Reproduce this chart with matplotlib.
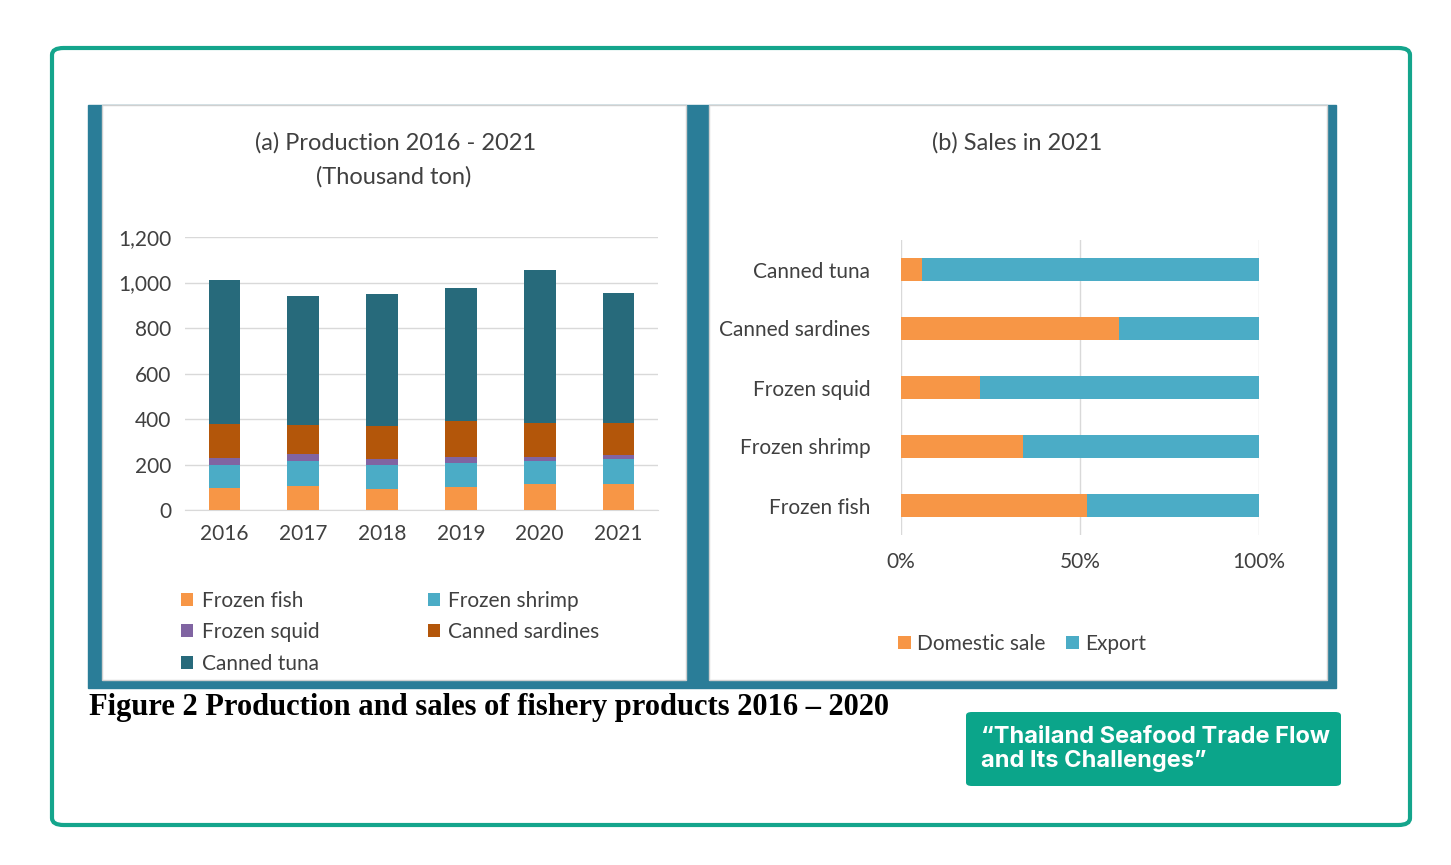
import numpy as np
import matplotlib.pyplot as plt
from matplotlib.patches import Rectangle, FancyBboxPatch

plt.rcParams["font.family"] = ["Lato", "DejaVu Sans"]

years = ["2016", "2017", "2018", "2019", "2020", "2021"]
frozen_fish = [97, 105, 92, 101, 114, 114]
frozen_shrimp = [101, 110, 106, 106, 101, 110]
frozen_squid = [31, 31, 26, 26, 18, 18]
canned_sardines = [149, 128, 145, 158, 149, 140]
canned_tuna = [633, 567, 581, 585, 673, 572]

products = ["Canned tuna", "Canned sardines", "Frozen squid", "Frozen shrimp", "Frozen fish"]
domestic = [6, 61, 22, 34, 52]
export = [94, 39, 78, 66, 48]

C_FISH, C_SHRIMP, C_SQUID, C_SARD, C_TUNA = "#F79646", "#4BACC6", "#8064A2", "#B3560A", "#276A7B"
TEAL = "#2A7D98"

fig = plt.figure(figsize=(14.51, 8.65), dpi=100)
W, H = 1451, 865
def fx(x): return x / W
def fy(y): return 1 - y / H

# outer green rounded border
fig.patches.append(FancyBboxPatch((fx(52), fy(825)), fx(1410 - 52), (825 - 48) / H,
                                  boxstyle="round,pad=0,rounding_size=0.008", transform=fig.transFigure,
                                  fill=False, edgecolor="#14A58C", lw=3, zorder=0))
# teal frame + white panels
fig.patches.append(Rectangle((fx(88), fy(688)), fx(1336 - 88), (688 - 105) / H,
                             transform=fig.transFigure, color=TEAL, zorder=0))
for x0, x1 in [(102, 686), (709, 1327)]:
    fig.patches.append(Rectangle((fx(x0), fy(680)), fx(x1 - x0), (680 - 105) / H,
                                 transform=fig.transFigure, facecolor="white",
                                 edgecolor="#D0D0D0", lw=1, zorder=0))

# (a) stacked columns
ax = fig.add_axes([fx(185), fy(510), fx(473), 273 / H], zorder=2)
ax.patch.set_visible(False)
x = np.arange(len(years))
bottom = np.zeros(len(years))
series = [("Frozen fish", frozen_fish, C_FISH), ("Frozen shrimp", frozen_shrimp, C_SHRIMP),
          ("Frozen squid", frozen_squid, C_SQUID), ("Canned sardines", canned_sardines, C_SARD),
          ("Canned tuna", canned_tuna, C_TUNA)]
handles = {}
for name, vals, col in series:
    handles[name] = ax.bar(x, vals, 0.4, bottom=bottom, color=col, zorder=3)
    bottom += np.array(vals)
ax.set_ylim(0, 1200)
ax.set_xlim(-0.5, 5.5)
ax.set_yticks(range(0, 1201, 200))
ax.set_yticklabels([f"{v:,}" for v in range(0, 1201, 200)])
ax.set_xticks(x)
ax.set_xticklabels(years)
ax.grid(axis="y", color="#D9D9D9", lw=1, zorder=0)
for s in ax.spines.values():
    s.set_visible(False)
ax.spines["bottom"].set_visible(True)
ax.spines["bottom"].set_color("#D9D9D9")
ax.tick_params(length=0, labelsize=15, colors="#404040", pad=10)
fig.text(fx(396), fy(143), "(a) Production 2016 - 2021", ha="center", va="center", fontsize=17, color="#404040")
fig.text(fx(394), fy(177), "(Thousand ton)", ha="center", va="center", fontsize=17, color="#404040")
order = ["Frozen fish", "Frozen squid", "Canned tuna", "Frozen shrimp", "Canned sardines"]
leg = fig.legend([handles[n] for n in order], order, loc="upper left", bbox_to_anchor=(fx(162), fy(572)),
                 ncol=2, frameon=False, fontsize=15, labelcolor="#404040", handlelength=0.6,
                 handleheight=0.6, handletextpad=0.4, columnspacing=5.2, labelspacing=0.55)
leg.set_zorder(3)

# (b) 100% stacked bars
bx = fig.add_axes([fx(901), fy(535), fx(358), 295 / H], zorder=2)
bx.patch.set_visible(False)
y = np.arange(len(products))
d = np.array(domestic) / 100
e = np.array(export) / 100
hd = bx.barh(y, d, 0.39, color=C_FISH, zorder=3)
he = bx.barh(y, e, 0.39, left=d, color=C_SHRIMP, zorder=3)
bx.set_xlim(0, 1)
bx.set_ylim(4.5, -0.5)
bx.set_yticks(y)
bx.set_yticklabels(products)
bx.set_xticks([0, 0.5, 1])
bx.set_xticklabels(["0%", "50%", "100%"])
bx.grid(axis="x", color="#D9D9D9", lw=1, zorder=0)
for s in bx.spines.values():
    s.set_visible(False)
bx.tick_params(length=0, labelsize=15, colors="#404040", pad=22)
bx.tick_params(axis="x", pad=12)
fig.text(fx(1017), fy(143), "(b) Sales in 2021", ha="center", va="center", fontsize=17, color="#404040")
leg2 = fig.legend([hd, he], ["Domestic sale", "Export"], loc="center", bbox_to_anchor=(fx(1022), fy(644)),
                  ncol=2, frameon=False, fontsize=15, labelcolor="#404040", handlelength=0.6,
                  handleheight=0.6, handletextpad=0.3, columnspacing=1.0)
leg2.set_zorder(3)

# caption
fig.text(fx(89), fy(707), "Figure 2 Production and sales of fishery products 2016 \u2013 2020",
         ha="left", va="center", fontsize=22, fontweight="bold", family=["Liberation Serif", "DejaVu Serif"])

# green tag
fig.patches.append(FancyBboxPatch((fx(966), fy(786)), fx(1341 - 966), (786 - 712) / H,
                                  boxstyle="round,pad=0,rounding_size=0.004", transform=fig.transFigure,
                                  facecolor="#0BA58A", edgecolor="none", zorder=1))
fig.text(fx(981), fy(749), "\u201cThailand Seafood Trade Flow\nand Its Challenges\u201d", ha="left", va="center",
         fontsize=17, fontweight="bold", color="white", family=["Inter", "DejaVu Sans"], linespacing=1.15)

fig.savefig("out.png", dpi=100, facecolor="white")
